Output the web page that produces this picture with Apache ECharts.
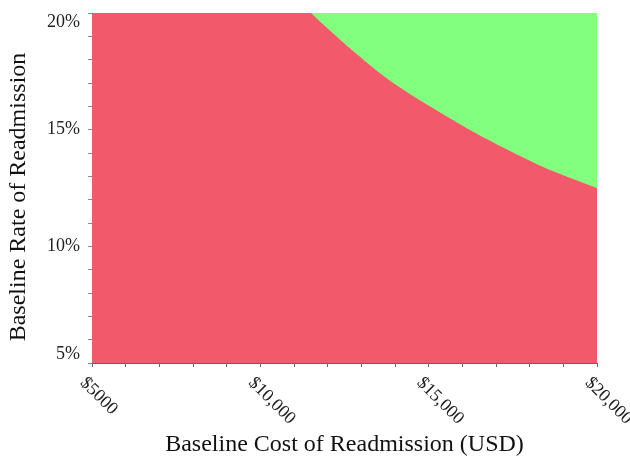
<!DOCTYPE html>
<html><head><meta charset="utf-8">
<script src="https://cdn.jsdelivr.net/npm/echarts@6/dist/echarts.min.js"></script>
<style>html,body{margin:0;padding:0;background:#fff}#c{width:630px;height:461px}</style>
</head><body><div id="c"></div>
<script>
// Region boundary (cost in USD, readmission rate in %)
var boundaryCost = [11500, 12650, 13850, 15500, 16850, 18400, 20000];
var boundaryRate = [20, 18.5, 17.1, 15.6, 14.5, 13.4, 12.5];
// Full plot extent
var extentCost = [5000, 20000];
var extentRate = [20, 20];
var xTickLabels = [5000, 10000, 15000, 20000];
var yTickLabels = [5, 10, 15, 20];

var FONT = '"Liberation Serif", "Times New Roman", serif';
var chart = echarts.init(document.getElementById('c'));
chart.setOption({
  animation: false,
  grid: {left: 92, right: 33, top: 13, bottom: 98, outerBoundsMode: 'none', containLabel: false},
  xAxis: {
    type: 'value', min: 5000, max: 20000, interval: 1000,
    name: 'Baseline Cost of Readmission (USD)', nameLocation: 'middle', nameGap: 70,
    nameMoveOverlap: false,
    nameTextStyle: {fontFamily: FONT, fontSize: 24, color: '#111'},
    axisLine: {show: true, lineStyle: {color: '#666', width: 1}},
    axisTick: {show: true, length: 4, lineStyle: {color: '#666'}},
    splitLine: {show: false},
    axisLabel: {
      rotate: -45, margin: 8, fontFamily: FONT, fontSize: 18, color: '#222',
      verticalAlign: 'top', lineHeight: 26,
      formatter: function (v) {
        if (xTickLabels.indexOf(v) < 0) return '';
        return v === 5000 ? '$5000' : '$' + (v / 1000) + ',000';
      }
    }
  },
  yAxis: {
    type: 'value', min: 5, max: 20, interval: 1,
    name: 'Baseline Rate of Readmission', nameLocation: 'middle', nameGap: 61,
    nameMoveOverlap: false,
    nameTextStyle: {fontFamily: FONT, fontSize: 24, color: '#111', padding: [0, 18, 0, 0]},
    axisLine: {show: true, lineStyle: {color: '#888', width: 1}},
    axisTick: {show: true, length: 4, lineStyle: {color: '#888'}},
    splitLine: {show: false},
    axisLabel: {
      margin: 12, fontFamily: FONT, fontSize: 18, color: '#222',
      verticalAlignMaxLabel: 'top', verticalAlignMinLabel: 'bottom',
      formatter: function (v) { return yTickLabels.indexOf(v) >= 0 ? v + '%' : ''; }
    }
  },
  series: [
    {
      type: 'line', symbol: 'none', silent: true,
      data: extentCost.map(function (c, i) { return [c, extentRate[i]]; }),
      lineStyle: {width: 0},
      areaStyle: {color: '#F2596B', opacity: 1, origin: 'start'}
    },
    {
      type: 'line', symbol: 'none', silent: true, smooth: 0.3,
      data: boundaryCost.map(function (c, i) { return [c, boundaryRate[i]]; }),
      lineStyle: {width: 0},
      areaStyle: {color: '#83FF7F', opacity: 1, origin: 'end'}
    }
  ]
});
</script></body></html>
